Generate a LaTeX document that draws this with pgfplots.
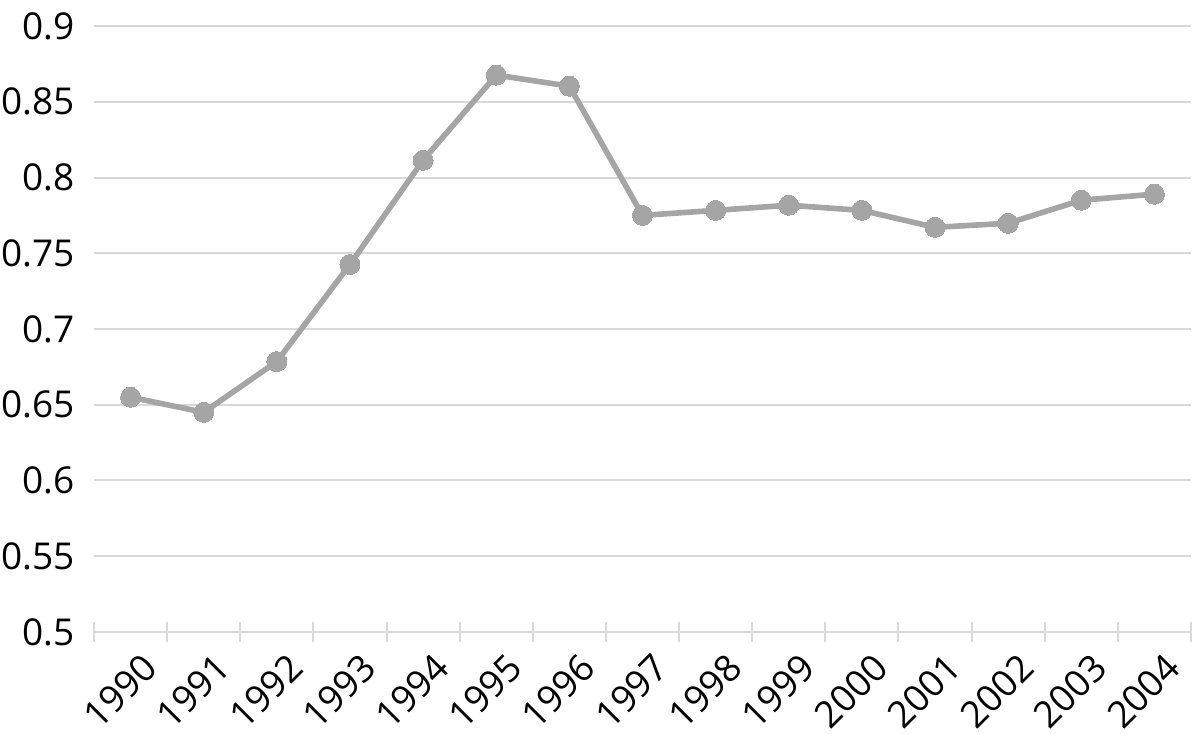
\documentclass[border=0pt]{standalone}
\usepackage{pgfplots}
\pgfplotsset{compat=1.18}
\usepackage{fontspec}
\setmainfont{Open Sans}
\definecolor{linegray}{HTML}{A5A5A5}
\definecolor{gridgray}{HTML}{D9D9D9}
\begin{document}
\begin{tikzpicture}
\begin{axis}[
  at={(0,0)}, anchor=south west,
  scale only axis,
  width=548.5pt, height=303pt,
  xmin=-0.5, xmax=14.5,
  ymin=0.5, ymax=0.9,
  axis lines*=left,
  axis line style={draw=none},
  ytick={0.5,0.55,0.6,0.65,0.7,0.75,0.8,0.85,0.9},
  yticklabels={0.5,0.55,0.6,0.65,0.7,0.75,0.8,0.85,0.9},
  ymajorgrids,
  major grid style={gridgray, line width=1pt},
  xtick={0,...,14},
  xticklabels={1990,1991,1992,1993,1994,1995,1996,1997,1998,1999,2000,2001,2002,2003,2004},
  minor xtick={-0.5,0.5,...,14.5},
  major tick length=0pt,
  minor tick length=10pt,
  tick align=center,
  minor x tick style={gridgray, line width=1pt},
  xticklabel style={rotate=45, anchor=east, font=\fontsize{18.5}{20}\selectfont, xshift=0pt, yshift=-17pt},
  yticklabel style={font=\fontsize{18.5}{20}\selectfont, anchor=east, xshift=-6pt},
  /pgf/number format/assume math mode=true,
  clip=false,
]
\draw[gridgray, line width=1pt] (axis cs:-0.5,0.5) -- (axis cs:14.5,0.5);
\addplot[linegray, line width=2.8pt, mark=*, mark size=5pt, mark options={fill=linegray, draw=linegray, line width=0pt}] coordinates {
(0,0.655) (1,0.645) (2,0.6785) (3,0.7426) (4,0.8114) (5,0.8676) (6,0.8603)
(7,0.775) (8,0.7783) (9,0.7817) (10,0.7783) (11,0.7671) (12,0.7698) (13,0.785) (14,0.789)
};
\end{axis}
\pgfresetboundingbox
\path[use as bounding box] (-47pt,-51pt) rectangle (551pt,316pt);
\end{tikzpicture}
\end{document}
